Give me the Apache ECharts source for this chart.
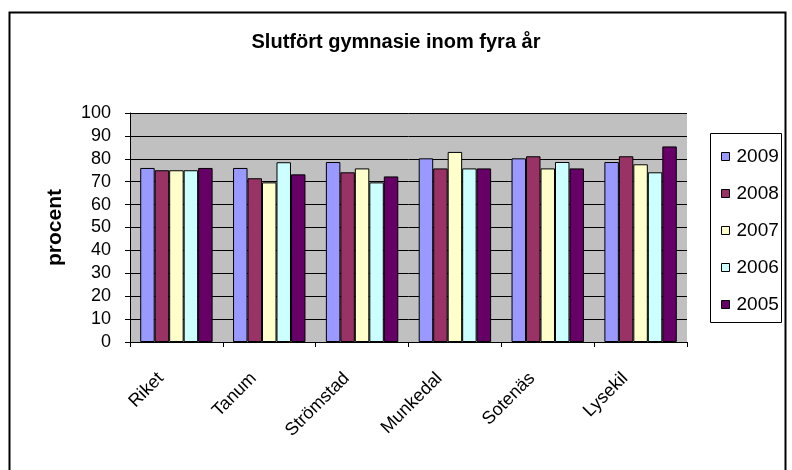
<!DOCTYPE html>
<html>
<head>
<meta charset="utf-8">
<script src="https://cdn.jsdelivr.net/npm/echarts@6/dist/echarts.min.js"></script>
<style>
  html, body { margin: 0; padding: 0; background: #fff; }
  #chart { width: 792px; height: 470px; }
</style>
</head>
<body>
<div id="chart"></div>
<script>
const categories = ['Riket', 'Tanum', 'Strömstad', 'Munkedal', 'Sotenäs', 'Lysekil']
const years = ['2009', '2008', '2007', '2006', '2005']
const v2009 = [76, 76, 78.6, 80.2, 80.2, 78.6]
const v2008 = [75, 71.5, 74.1, 75.8, 81.1, 81.1]
const v2007 = [75, 69.7, 75.8, 83, 75.8, 77.6]
const v2006 = [75, 78.5, 69.7, 75.8, 78.6, 74.1]
const v2005 = [76, 73.2, 72.3, 75.8, 75.8, 85.4]
const colors = ['#9999FF', '#993366', '#FFFFCC', '#CCFFFF', '#660066']
const values = [v2009, v2008, v2007, v2006, v2005]

const font = 'Liberation Sans, Arial, sans-serif'
const chart = echarts.init(document.getElementById('chart'))

chart.setOption({
  animation: false,
  backgroundColor: '#fff',
  textStyle: { fontFamily: font },
  title: {
    text: 'Slutfört gymnasie inom fyra år',
    left: 'center',
    top: 27,
    textStyle: { fontFamily: font, fontSize: 20, fontWeight: 'bold', color: '#000' }
  },
  graphic: [
    { type: 'rect', shape: { x: 9.5, y: 12.5, width: 776, height: 470 }, style: { fill: 'none', stroke: '#000', lineWidth: 2 }, z: 0 },
    { type: 'rect', shape: { x: 710.5, y: 133.5, width: 71, height: 189 }, style: { fill: '#fff', stroke: '#000', lineWidth: 1 }, z: 0 }
  ],
  legend: {
    orient: 'vertical',
    left: 716,
    top: 142,
    itemWidth: 8,
    itemHeight: 8,
    itemGap: 18,
    icon: 'rect',
    itemStyle: { borderColor: '#000', borderWidth: 1 },
    textStyle: { fontFamily: font, fontSize: 19, color: '#000', padding: [0, 0, 0, 2] }
  },
  grid: { left: 130, right: 105, top: 113, bottom: 128 },
  xAxis: {
    type: 'category',
    data: categories,
    axisLine: { lineStyle: { color: '#000' } },
    axisTick: { show: true, length: 5, lineStyle: { color: '#000' } },
    axisLabel: { rotate: 45, color: '#000', fontSize: 18, fontFamily: font, margin: 18, padding: [0, 22, 0, 0] }
  },
  yAxis: {
    type: 'value',
    min: 0,
    max: 100,
    interval: 10,
    name: 'procent',
    nameLocation: 'middle',
    nameGap: 64,
    nameTextStyle: { fontFamily: font, fontSize: 21, fontWeight: 'bold', color: '#000' },
    axisLine: { show: true, lineStyle: { color: '#000' } },
    axisTick: { show: true, length: 5, lineStyle: { color: '#000' } },
    axisLabel: { color: '#000', fontSize: 18, fontFamily: font, margin: 19 },
    splitLine: { lineStyle: { color: '#000', width: 1 } },
    splitArea: { show: true, areaStyle: { color: ['#C0C0C0', '#C0C0C0'] } }
  },
  series: years.map((y, i) => ({
    name: y,
    type: 'bar',
    data: values[i],
    barGap: '0%',
    barCategoryGap: '22%',
    itemStyle: { color: colors[i], borderColor: '#000', borderWidth: 1 }
  }))
})
</script>
</body>
</html>
